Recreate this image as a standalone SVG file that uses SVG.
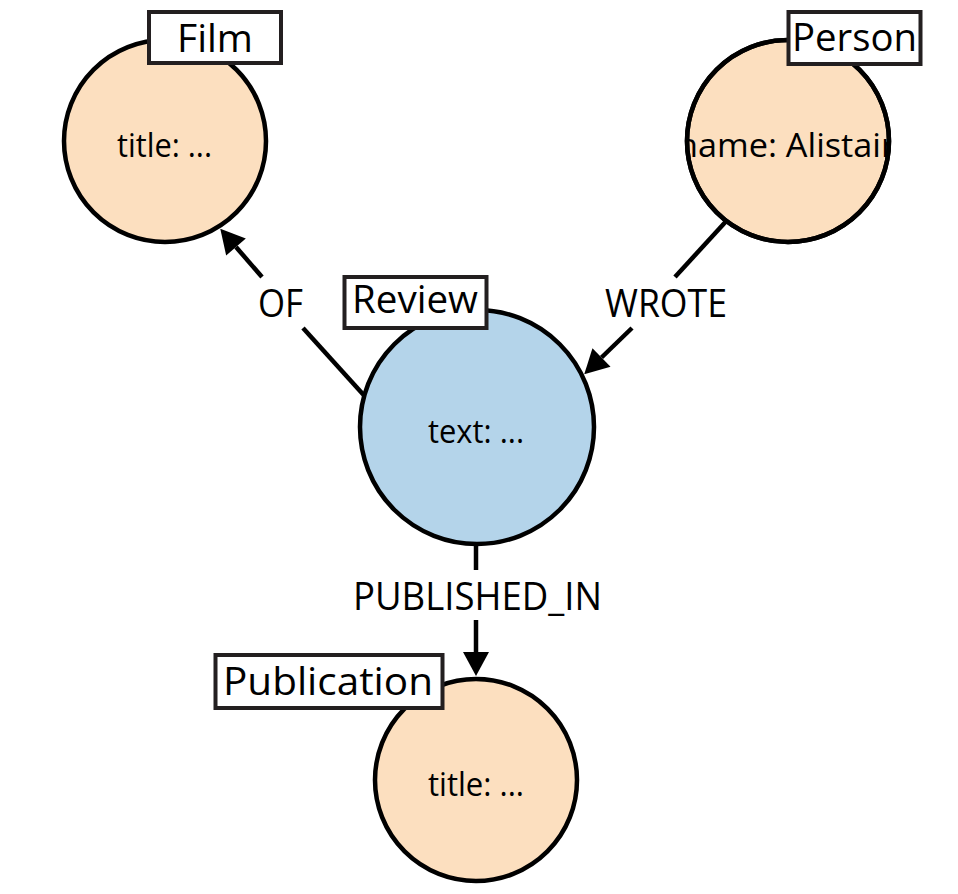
<svg xmlns="http://www.w3.org/2000/svg" width="958" height="894" viewBox="0 0 958 894">
  <style>
    .conn { stroke: #000; stroke-width: 4.5; fill: none; }
    .node { stroke: #000; stroke-width: 4.5; }
    .orange { fill: #FCDFBF; }
    .blue { fill: #B4D4EA; }
    .lbox { fill: #fff; stroke: #231f20; stroke-width: 4; }
    .lbl { font-family: "Open Sans", "Noto Sans", sans-serif; font-size: 39px; fill: #000; text-anchor: middle; }
    .prop { font-family: "Open Sans", "Noto Sans", sans-serif; font-size: 33px; fill: #000; text-anchor: middle; }
    .elbl { font-family: "Open Sans", "Noto Sans", sans-serif; font-size: 39px; fill: #000; text-anchor: middle; }
  </style>
  <defs>
    <marker id="arrow" markerUnits="userSpaceOnUse" markerWidth="26" markerHeight="28" refX="0" refY="13" orient="auto" overflow="visible">
      <path d="M0,0 L24,13 L0,26 Z" fill="#000"/>
    </marker>
    <clipPath id="clipPerson">
      <circle cx="788" cy="141" r="101"/>
    </clipPath>
  </defs>
  <rect width="958" height="894" fill="#fff"/>

  <g id="connectors">
    <g id="edge-of">
      <path class="conn" d="M370,402 L303,328"/>
      <path class="conn" d="M262,277 L236,247" marker-end="url(#arrow)"/>
      <text class="elbl" x="280.5" y="317" textLength="45" lengthAdjust="spacingAndGlyphs">OF</text>
    </g>
    <g id="edge-wrote">
      <path class="conn" d="M730,217 L675,277"/>
      <path class="conn" d="M632,328 L601.5,357.5" marker-end="url(#arrow)"/>
      <text class="elbl" x="666" y="317" textLength="122" lengthAdjust="spacingAndGlyphs">WROTE</text>
    </g>
    <g id="edge-published">
      <path class="conn" d="M476,540 L476,570"/>
      <path class="conn" d="M476,620 L476,652" marker-end="url(#arrow)"/>
      <text class="elbl" x="477.5" y="610" textLength="249" lengthAdjust="spacingAndGlyphs">PUBLISHED_IN</text>
    </g>
  </g>

  <g id="film">
    <circle class="node orange" cx="165" cy="141" r="101"/>
    <text class="prop" x="164.5" y="157" textLength="95" lengthAdjust="spacingAndGlyphs">title: ...</text>
    <rect class="lbox" x="149" y="12" width="132" height="51"/>
    <text class="lbl" x="215" y="52" textLength="76" lengthAdjust="spacingAndGlyphs">Film</text>
  </g>

  <g id="person">
    <circle class="node orange" cx="788" cy="141" r="101"/>
    <text class="prop" x="786" y="157" textLength="218" lengthAdjust="spacingAndGlyphs" clip-path="url(#clipPerson)">name: Alistair</text>
    <circle cx="788" cy="141" r="101" fill="none" stroke="#000" stroke-width="4.5"/>
    <rect class="lbox" x="788.5" y="12" width="132" height="52"/>
    <text class="lbl" x="854.5" y="51" textLength="125" lengthAdjust="spacingAndGlyphs">Person</text>
  </g>

  <g id="review">
    <circle class="node blue" cx="477" cy="427" r="117"/>
    <text class="prop" x="476" y="443" textLength="96" lengthAdjust="spacingAndGlyphs">text: ...</text>
    <rect class="lbox" x="344.5" y="277" width="142" height="51"/>
    <text class="lbl" x="415" y="313" textLength="126" lengthAdjust="spacingAndGlyphs">Review</text>
  </g>

  <g id="publication">
    <circle class="node orange" cx="476" cy="780" r="101"/>
    <text class="prop" x="476" y="796" textLength="96" lengthAdjust="spacingAndGlyphs">title: ...</text>
    <rect class="lbox" x="215.5" y="655" width="227" height="53"/>
    <text class="lbl" x="328" y="695" textLength="210" lengthAdjust="spacingAndGlyphs">Publication</text>
  </g>
</svg>
